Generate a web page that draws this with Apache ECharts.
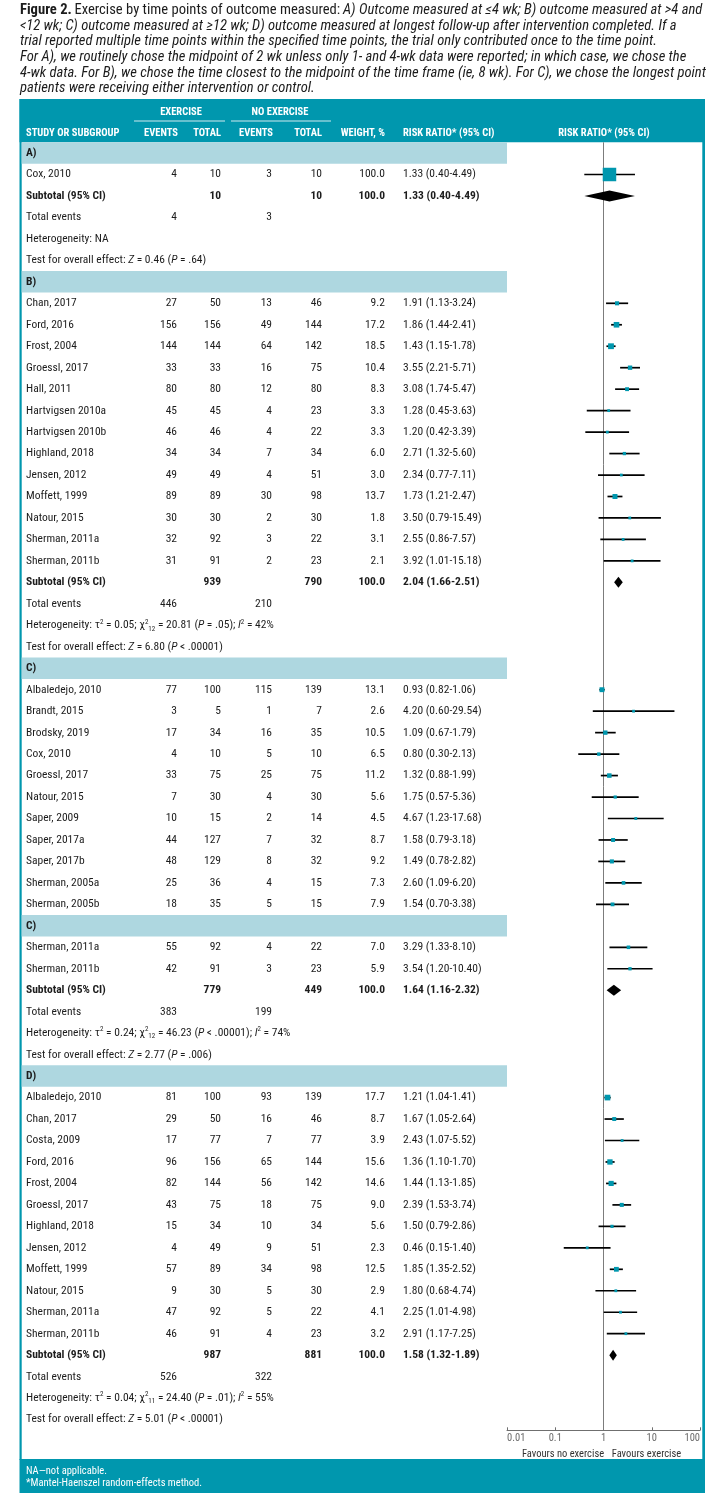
<!DOCTYPE html>
<html><head><meta charset="utf-8">
<script src="https://cdn.jsdelivr.net/npm/echarts@6/dist/echarts.min.js"></script>
<style>html,body{margin:0;padding:0;background:#fff}#c{width:725px;height:1500px}</style>
</head><body><div id="c"></div>
<script>
// ---------------- DATA ----------------
const sectionLabels = ['A)', 'B)', 'C)', 'C)', 'D)'];
const sectionSizes = [1, 13, 11, 2, 12];
const sectionHasSummary = [true, true, false, true, true];

const studyNames = [
  'Cox, 2010',
  'Chan, 2017','Ford, 2016','Frost, 2004','Groessl, 2017','Hall, 2011','Hartvigsen 2010a','Hartvigsen 2010b','Highland, 2018','Jensen, 2012','Moffett, 1999','Natour, 2015','Sherman, 2011a','Sherman, 2011b',
  'Albaledejo, 2010','Brandt, 2015','Brodsky, 2019','Cox, 2010','Groessl, 2017','Natour, 2015','Saper, 2009','Saper, 2017a','Saper, 2017b','Sherman, 2005a','Sherman, 2005b',
  'Sherman, 2011a','Sherman, 2011b',
  'Albaledejo, 2010','Chan, 2017','Costa, 2009','Ford, 2016','Frost, 2004','Groessl, 2017','Highland, 2018','Jensen, 2012','Moffett, 1999','Natour, 2015','Sherman, 2011a','Sherman, 2011b'
];
const expEvents = [4, 27,156,144,33,80,45,46,34,49,89,30,32,31, 77,3,17,4,33,7,10,44,48,25,18, 55,42, 81,29,17,96,82,43,15,4,57,9,47,46];
const expTotals = [10, 50,156,144,33,80,45,46,34,49,89,30,92,91, 100,5,34,10,75,30,15,127,129,36,35, 92,91, 100,50,77,156,144,75,34,49,89,30,92,91];
const ctlEvents = [3, 13,49,64,16,12,4,4,7,4,30,2,3,2, 115,1,16,5,25,4,2,7,8,4,5, 4,3, 93,16,7,65,56,18,10,9,34,5,5,4];
const ctlTotals = [10, 46,144,142,75,80,23,22,34,51,98,30,22,23, 139,7,35,10,75,30,14,32,32,15,15, 22,23, 139,46,77,144,142,75,34,51,98,30,22,23];
const weights = [100.0, 9.2,17.2,18.5,10.4,8.3,3.3,3.3,6.0,3.0,13.7,1.8,3.1,2.1, 13.1,2.6,10.5,6.5,11.2,5.6,4.5,8.7,9.2,7.3,7.9, 7.0,5.9, 17.7,8.7,3.9,15.6,14.6,9.0,5.6,2.3,12.5,2.9,4.1,3.2];
const riskRatios = [1.33, 1.91,1.86,1.43,3.55,3.08,1.28,1.20,2.71,2.34,1.73,3.50,2.55,3.92, 0.93,4.20,1.09,0.80,1.32,1.75,4.67,1.58,1.49,2.60,1.54, 3.29,3.54, 1.21,1.67,2.43,1.36,1.44,2.39,1.50,0.46,1.85,1.80,2.25,2.91];
const ciLower = [0.40, 1.13,1.44,1.15,2.21,1.74,0.45,0.42,1.32,0.77,1.21,0.79,0.86,1.01, 0.82,0.60,0.67,0.30,0.88,0.57,1.23,0.79,0.78,1.09,0.70, 1.33,1.20, 1.04,1.05,1.07,1.10,1.13,1.53,0.79,0.15,1.35,0.68,1.01,1.17];
const ciUpper = [4.49, 3.24,2.41,1.78,5.71,5.47,3.63,3.39,5.60,7.11,2.47,15.49,7.57,15.18, 1.06,29.54,1.79,2.13,1.99,5.36,17.68,3.18,2.82,6.20,3.38, 8.10,10.40, 1.41,2.64,5.52,1.70,1.85,3.74,2.86,1.40,2.52,4.74,4.98,7.25];

const subtotalExpTotals = [10, 939, 779, 987];
const subtotalCtlTotals = [10, 790, 449, 881];
const subtotalRR = [1.33, 2.04, 1.64, 1.58];
const subtotalLower = [0.40, 1.66, 1.16, 1.32];
const subtotalUpper = [4.49, 2.51, 2.32, 1.89];
const totalExpEvents = [4, 446, 383, 526];
const totalCtlEvents = [3, 210, 199, 322];
const tau2 = [null, 0.05, 0.24, 0.04];
const chi2 = [null, 20.81, 46.23, 24.40];
const chiDf = [null, 12, 12, 11];
const hetP = [null, '= .05', '< .00001', '= .01'];
const i2 = [null, 42, 74, 55];
const zValues = [0.46, 6.80, 2.77, 5.01];
const zP = ['= .64', '< .00001', '= .006', '< .00001'];
const axisTicks = [0.01, 0.1, 1, 10, 100];

// ---------------- STYLE / LAYOUT ----------------
const FONT = "'Liberation Sans Narrow','Roboto Condensed','DejaVu Sans Condensed','Liberation Sans',sans-serif";
const TEAL = '#0097ae', BAND = '#aed7e0', INK = '#1c1c1c';
const FS = 11.5;
const GRID_TOP = 142.3, GRID_H = 1288;
const COL = {name: 26, expEv: 177, expTot: 221, ctlEv: 272, ctlTot: 322, weight: 385, rr: 403};

// ---------------- ROWS ----------------
const rows = [];
(function () {
  let s = 0, m = 0;
  sectionLabels.forEach((lab, k) => {
    rows.push({kind: 'band', label: lab});
    for (let j = 0; j < sectionSizes[k]; j++, s++) rows.push({kind: 'study', i: s});
    if (sectionHasSummary[k]) {
      ['subtotal', 'events', 'het', 'test'].forEach(kind => rows.push({kind, i: m}));
      m++;
    }
  });
})();
const N = rows.length;

function rrText(a, b, c) { return a.toFixed(2) + ' (' + b.toFixed(2) + '-' + c.toFixed(2) + ')'; }

const baseTok = {fontSize: FS, fontFamily: FONT, fill: INK, color: INK};
const RICH = {
  i: Object.assign({}, baseTok, {fontStyle: 'italic'}),
  sup: Object.assign({}, baseTok, {fontSize: 7, verticalAlign: 'top', lineHeight: 9}),
  sub: Object.assign({}, baseTok, {fontSize: 7, verticalAlign: 'bottom', lineHeight: 9})
};

function cellsFor(r) {
  const c = [];
  const i = r.i;
  if (r.kind === 'band') c.push({x: COL.name, t: r.label, al: 'left', b: true});
  else if (r.kind === 'study') {
    c.push({x: COL.name, t: studyNames[i], al: 'left'},
      {x: COL.expEv, t: String(expEvents[i]), al: 'right'},
      {x: COL.expTot, t: String(expTotals[i]), al: 'right'},
      {x: COL.ctlEv, t: String(ctlEvents[i]), al: 'right'},
      {x: COL.ctlTot, t: String(ctlTotals[i]), al: 'right'},
      {x: COL.weight, t: weights[i].toFixed(1), al: 'right'},
      {x: COL.rr, t: rrText(riskRatios[i], ciLower[i], ciUpper[i]), al: 'left'});
  } else if (r.kind === 'subtotal') {
    c.push({x: COL.name, t: 'Subtotal (95% CI)', al: 'left', b: true},
      {x: COL.expTot, t: String(subtotalExpTotals[i]), al: 'right', b: true},
      {x: COL.ctlTot, t: String(subtotalCtlTotals[i]), al: 'right', b: true},
      {x: COL.weight, t: '100.0', al: 'right', b: true},
      {x: COL.rr, t: rrText(subtotalRR[i], subtotalLower[i], subtotalUpper[i]), al: 'left', b: true});
  } else if (r.kind === 'events') {
    c.push({x: COL.name, t: 'Total events', al: 'left'},
      {x: COL.expEv, t: String(totalExpEvents[i]), al: 'right'},
      {x: COL.ctlEv, t: String(totalCtlEvents[i]), al: 'right'});
  } else if (r.kind === 'het') {
    const t = tau2[i] === null ? 'Heterogeneity: NA' :
      'Heterogeneity: τ{sup|2} = ' + tau2[i].toFixed(2) + '; χ{sup|2}{sub|' + chiDf[i] + '} = ' + chi2[i].toFixed(2) +
      ' ({i|P} ' + hetP[i] + '); {i|I}{sup|2} = ' + i2[i] + '%';
    c.push({x: COL.name, t, al: 'left', rich: true});
  } else if (r.kind === 'test') {
    c.push({x: COL.name, t: 'Test for overall effect: {i|Z} = ' + zValues[i].toFixed(2) + ' ({i|P} ' + zP[i] + ')', al: 'left', rich: true});
  }
  return c;
}
const rowCells = rows.map(cellsFor);

const bandData = [], textData = [], studyData = [], diamondData = [];
rows.forEach((r, idx) => {
  textData.push([idx]);
  if (r.kind === 'band') bandData.push([idx]);
  if (r.kind === 'study') studyData.push([riskRatios[r.i], ciLower[r.i], ciUpper[r.i], idx, weights[r.i]]);
  if (r.kind === 'subtotal') diamondData.push([subtotalRR[r.i], subtotalLower[r.i], subtotalUpper[r.i], idx]);
});

// ---------------- CHART ----------------
const chart = echarts.init(document.getElementById('c'), null, {renderer: 'canvas'});

function txt(x, y, text, o) {
  o = o || {};
  return {
    type: 'text', x, y, z: 20, silent: true,
    style: Object.assign({
      text, fill: o.fill || INK, fontSize: o.fs || FS, fontFamily: FONT,
      fontWeight: o.b ? 'bold' : 'normal', fontStyle: o.it ? 'italic' : 'normal',
      align: o.al || 'left', textAlign: o.al || 'left', verticalAlign: 'middle', textVerticalAlign: 'middle'
    }, o.rich ? {rich: o.rich} : {})
  };
}

const TFS = 14.6;
const titleRich = {
  b: {fontSize: TFS, fontFamily: FONT, fontWeight: 'bold', fill: INK, color: INK},
  n: {fontSize: TFS, fontFamily: FONT, fill: INK, color: INK},
  it: {fontSize: TFS, fontFamily: FONT, fontStyle: 'italic', fill: INK, color: INK}
};
const titleLines = [
  '{b|Figure 2.} {n|Exercise by time points of outcome measured:} {it|A) Outcome measured at ≤4 wk; B) outcome measured at >4 and}',
  '{it|<12 wk; C) outcome measured at ≥12 wk; D) outcome measured at longest follow-up after intervention completed. If a}',
  '{it|trial reported multiple time points within the specified time points, the trial only contributed once to the time point.}',
  '{it|For A), we routinely chose the midpoint of 2 wk unless only 1- and 4-wk data were reported; in which case, we chose the}',
  '{it|4-wk data. For B), we chose the time closest to the midpoint of the time frame (ie, 8 wk). For C), we chose the longest point}',
  '{it|patients were receiving either intervention or control.}'
];

const HW = '#ffffff';
const hdr = (x, y, t, al) => txt(x, y, t, {fill: HW, b: true, fs: 10.5, al});

const graphic = [];
// frame
graphic.push({type: 'rect', shape: {x: 19.5, y: 99, width: 685.5, height: 43.3}, style: {fill: TEAL}, z: 1, silent: true});
graphic.push({type: 'rect', shape: {x: 19.5, y: 99, width: 2.2, height: 1361}, style: {fill: TEAL}, z: 1, silent: true});
graphic.push({type: 'rect', shape: {x: 702.3, y: 99, width: 2.7, height: 1361}, style: {fill: TEAL}, z: 1, silent: true});
graphic.push({type: 'rect', shape: {x: 19.5, y: 1459, width: 685.5, height: 34}, style: {fill: TEAL}, z: 1, silent: true});
// title
titleLines.forEach((t, k) => graphic.push(txt(20, 10.5 + k * 15.6, t, {rich: titleRich})));
// header
graphic.push(hdr(181, 112, 'EXERCISE', 'center'));
graphic.push(hdr(280, 112, 'NO EXERCISE', 'center'));
graphic.push({type: 'line', shape: {x1: 134, y1: 121, x2: 225, y2: 121}, style: {stroke: '#cfe9ee', lineWidth: 1}, z: 20, silent: true});
graphic.push({type: 'line', shape: {x1: 231, y1: 121, x2: 331, y2: 121}, style: {stroke: '#cfe9ee', lineWidth: 1}, z: 20, silent: true});
graphic.push(hdr(COL.name, 133, 'STUDY OR SUBGROUP', 'left'));
graphic.push(hdr(COL.expEv + 1, 133, 'EVENTS', 'right'));
graphic.push(hdr(COL.expTot, 133, 'TOTAL', 'right'));
graphic.push(hdr(COL.ctlEv + 1, 133, 'EVENTS', 'right'));
graphic.push(hdr(COL.ctlTot, 133, 'TOTAL', 'right'));
graphic.push(hdr(COL.weight, 133, 'WEIGHT, %', 'right'));
graphic.push(hdr(COL.rr, 133, 'RISK RATIO* (95% CI)', 'left'));
graphic.push(hdr(604, 133, 'RISK RATIO* (95% CI)', 'center'));
// footer
graphic.push(txt(26, 1471.5, 'NA—not applicable.', {fill: HW, fs: 10.5}));
graphic.push(txt(26, 1483.5, '*Mantel-Haenszel random-effects method.', {fill: HW, fs: 10.5}));

const nameTok = {fontSize: 10.5, fontFamily: FONT, color: '#333'};
const option = {
  animation: false,
  backgroundColor: '#ffffff',
  grid: [
    {left: 0, right: 0, top: GRID_TOP, height: GRID_H},
    {left: 507, right: 25, top: GRID_TOP, height: GRID_H}
  ],
  xAxis: [
    {gridIndex: 0, type: 'value', min: 0, max: 725, show: false, axisLine: {onZero: false}},
    {
      gridIndex: 1, type: 'log', logBase: 10, min: axisTicks[0], max: axisTicks[axisTicks.length - 1],
      axisLine: {show: true, onZero: false, lineStyle: {color: '#6f6f6f', width: 1}},
      axisTick: {show: true, inside: true, length: 3, lineStyle: {color: '#6f6f6f'}},
      minorTick: {show: false},
      splitLine: {show: false},
      axisLabel: {
        margin: 3, color: '#6a6a6a', fontSize: 10.5, fontFamily: FONT,
        alignMinLabel: 'left', alignMaxLabel: 'right',
        formatter: v => {
          const e = Math.round(Math.log10(v));
          const t = axisTicks.find(a => Math.round(Math.log10(a)) === e);
          return t === undefined ? '' : String(t);
        }
      },
      name: '{a|Favours no exercise}{b|Favours exercise}',
      nameLocation: 'middle', nameGap: 15,
      nameTextStyle: {
        rich: {
          a: Object.assign({}, nameTok, {width: 86}),
          b: Object.assign({}, nameTok, {width: 81})
        }
      }
    }
  ],
  yAxis: [
    {gridIndex: 0, type: 'value', min: -0.5, max: N - 0.5, inverse: true, show: false},
    {gridIndex: 1, type: 'value', min: -0.5, max: N - 0.5, inverse: true, show: false}
  ],
  series: [
    { // subgroup bands
      type: 'custom', xAxisIndex: 0, yAxisIndex: 0, silent: true, z: 2,
      data: bandData, encode: {y: 0},
      renderItem: (params, api) => {
        const row = api.value(0);
        const p0 = api.coord([21.7, row - 0.5]);
        const p1 = api.coord([507, row + 0.5]);
        return {type: 'rect', shape: {x: p0[0], y: p0[1], width: p1[0] - p0[0], height: p1[1] - p0[1]}, style: {fill: BAND}};
      }
    },
    { // table text
      type: 'custom', xAxisIndex: 0, yAxisIndex: 0, silent: true, z: 5,
      data: textData, encode: {y: 0},
      renderItem: (params, api) => {
        const row = api.value(0);
        const children = rowCells[params.dataIndex].map(c => {
          const p = api.coord([c.x, row]);
          return {
            type: 'text', x: p[0], y: p[1],
            style: Object.assign({
              text: c.t, fill: INK, fontSize: FS, fontFamily: FONT, fontWeight: c.b ? 'bold' : 'normal',
              align: c.al, textAlign: c.al, verticalAlign: 'middle', textVerticalAlign: 'middle', lineHeight: 14
            }, c.rich ? {rich: RICH} : {})
          };
        });
        return {type: 'group', children};
      }
    },
    { // line of no effect
      type: 'line', xAxisIndex: 1, yAxisIndex: 1, silent: true, z: 3,
      symbol: 'none', data: [[1, -0.5], [1, N - 0.5]],
      lineStyle: {color: '#7c7c7c', width: 1}
    },
    { // study estimates
      type: 'custom', xAxisIndex: 1, yAxisIndex: 1, silent: true, z: 6,
      data: studyData, encode: {x: [0, 1, 2], y: 3},
      renderItem: (params, api) => {
        const y = api.value(3);
        const pr = api.coord([api.value(0), y]);
        const pl = api.coord([api.value(1), y]);
        const ph = api.coord([api.value(2), y]);
        const sz = Math.max(2.8, 13.5 * Math.sqrt(api.value(4) / 100));
        return {type: 'group', children: [
          {type: 'line', shape: {x1: pl[0], y1: pl[1], x2: ph[0], y2: ph[1]}, style: {stroke: '#000', lineWidth: 1.7}},
          {type: 'rect', shape: {x: pr[0] - sz / 2, y: pr[1] - sz / 2, width: sz, height: sz}, style: {fill: TEAL}}
        ]};
      }
    },
    { // subtotal diamonds
      type: 'custom', xAxisIndex: 1, yAxisIndex: 1, silent: true, z: 6,
      data: diamondData, encode: {x: [0, 1, 2], y: 3},
      renderItem: (params, api) => {
        const y = api.value(3);
        const pr = api.coord([api.value(0), y]);
        const pl = api.coord([api.value(1), y]);
        const ph = api.coord([api.value(2), y]);
        const h = 11;
        return {type: 'polygon', shape: {points: [[pl[0], pr[1]], [pr[0], pr[1] - h / 2], [ph[0], pr[1]], [pr[0], pr[1] + h / 2]]}, style: {fill: '#000'}};
      }
    }
  ],
  graphic: graphic
};
chart.setOption(option);
</script>
</body></html>
